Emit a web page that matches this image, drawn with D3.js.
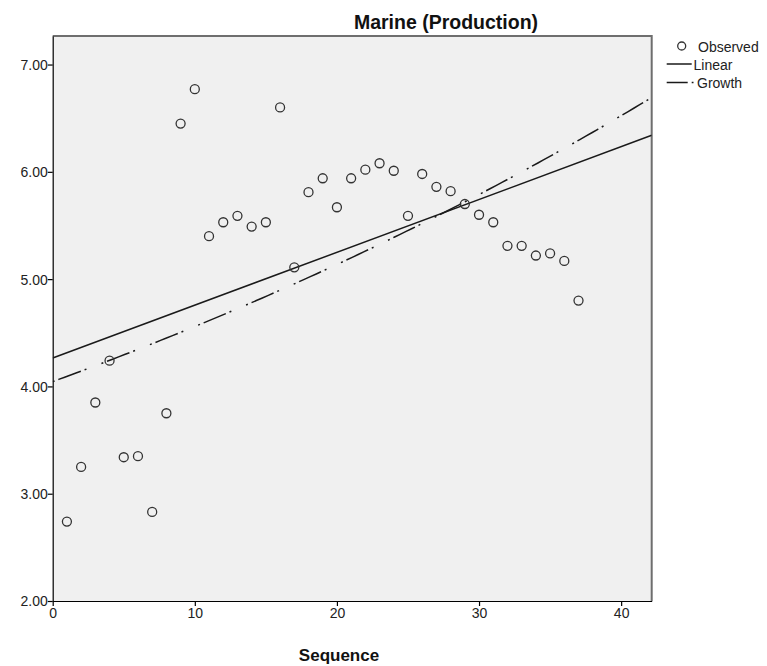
<!DOCTYPE html>
<html><head><meta charset="utf-8">
<script src="https://cdn.jsdelivr.net/npm/d3@7"></script>
<style>body{margin:0;background:#fff} svg{display:block}</style>
</head><body><svg id="c" width="767" height="666"></svg>
<script>
const chartTitle = "Marine (Production)";
const xAxisLabel = "Sequence";
const sequence = [1,2,3,4,5,6,7,8,9,10,11,12,13,14,15,16,17,18,19,20,21,22,23,24,25,26,27,28,29,30,31,32,33,34,35,36,37];
const observed = [2.74,3.25,3.85,4.24,3.34,3.35,2.83,3.75,6.45,6.77,5.40,5.53,5.59,5.49,5.53,6.60,5.11,5.81,5.94,5.67,5.94,6.02,6.08,6.01,5.59,5.98,5.86,5.82,5.70,5.60,5.53,5.31,5.31,5.22,5.24,5.17,4.80];
const xTicks = [0,10,20,30,40];
const yTicks = [2,3,4,5,6,7];
const legendLabels = ["Observed","Linear","Growth"];

const svg = d3.select("#c");
const L = 52.7, R = 651.7, T = 36, B = 601;
const x = d3.scaleLinear().domain([0, 42.15]).range([L, R]);
const y = d3.scaleLinear().domain([2, 7.266]).range([B, T]);

// fits
const mx = d3.mean(sequence);
function ols(xs, ys){
  const my = d3.mean(ys);
  let sxy=0, sxx=0;
  xs.forEach((v,i)=>{sxy+=(v-mx)*(ys[i]-my); sxx+=(v-mx)*(v-mx);});
  const b1 = sxy/sxx; return [my-b1*mx, b1];
}
const lin = ols(sequence, observed);
const gro = ols(sequence, observed.map(Math.log));

svg.append("defs").append("clipPath").attr("id","clip")
  .append("rect").attr("x",L).attr("y",T).attr("width",R-L).attr("height",B-T);

svg.append("rect").attr("x",L).attr("y",T).attr("width",R-L).attr("height",B-T)
  .attr("fill","#f0f0f0");
svg.append("path").attr("d",`M${L},${T}H${R}V${B}`).attr("fill","none")
  .attr("stroke","#6e6e6e").attr("stroke-width",2);

const font = "'Liberation Sans', Arial, sans-serif";

const gx = svg.append("g").attr("transform",`translate(0,${B})`)
  .call(d3.axisBottom(x).tickValues(xTicks).tickFormat(d3.format("d")).tickSize(5).tickPadding(1).tickSizeOuter(0));
const gy = svg.append("g").attr("transform",`translate(${L},0)`)
  .call(d3.axisLeft(y).tickValues(yTicks).tickFormat(d3.format(".2f")).tickSize(5).tickSizeOuter(0));
[gx,gy].forEach(g=>{
  g.select(".domain").attr("stroke","#000").attr("stroke-width",1.2);
  g.selectAll(".tick line").attr("stroke","#000").attr("stroke-width",1.2);
  g.selectAll(".tick text").attr("font-family",font).attr("font-size",14).attr("fill","#222");
});
gx.selectAll(".tick text").attr("dy","0.75em");
gy.selectAll(".tick text").attr("x",-5).attr("dy","0.35em");

const plot = svg.append("g").attr("clip-path","url(#clip)");
const xd = x.domain();
plot.append("line")
  .attr("x1",x(xd[0])).attr("y1",y(lin[0]+lin[1]*xd[0]))
  .attr("x2",x(xd[1])).attr("y2",y(lin[0]+lin[1]*xd[1]))
  .attr("stroke","#1a1a1a").attr("stroke-width",1.5);
const gPts = d3.range(0,101).map(i=>xd[0]+(xd[1]-xd[0])*i/100);
plot.append("path")
  .attr("d", d3.line().x(d=>x(d)).y(d=>y(Math.exp(gro[0]+gro[1]*d)))(gPts))
  .attr("fill","none").attr("stroke","#1a1a1a").attr("stroke-width",1.5)
  .attr("stroke-dasharray","2,4,24,4,2,16");

plot.selectAll("circle.obs").data(sequence).join("circle").attr("class","obs")
  .attr("cx",d=>x(d)).attr("cy",(d,i)=>y(observed[i])).attr("r",4.5)
  .attr("fill","none").attr("stroke","#333").attr("stroke-width",1.3);

svg.append("text").attr("x",446).attr("y",29).attr("text-anchor","middle")
  .attr("font-family",font).attr("font-weight","bold").attr("font-size",19.5).attr("fill","#111")
  .text(chartTitle);
svg.append("text").attr("x",339).attr("y",661).attr("text-anchor","middle")
  .attr("font-family",font).attr("font-weight","bold").attr("font-size",17).attr("fill","#111")
  .text(xAxisLabel);

const lg = svg.append("g").attr("font-family",font).attr("font-size",14).attr("fill","#222");
lg.append("circle").attr("cx",681.7).attr("cy",46).attr("r",4).attr("fill","none").attr("stroke","#333").attr("stroke-width",1.3);
lg.append("text").attr("x",698).attr("y",51.5).text(legendLabels[0]);
lg.append("line").attr("x1",666.7).attr("x2",691.7).attr("y1",64).attr("y2",64).attr("stroke","#1a1a1a").attr("stroke-width",1.5);
lg.append("text").attr("x",693.5).attr("y",69.5).text(legendLabels[1]);
lg.append("line").attr("x1",666.7).attr("x2",693.5).attr("y1",82.5).attr("y2",82.5).attr("stroke","#1a1a1a").attr("stroke-width",1.5).attr("stroke-dasharray","21,4,2,10");
lg.append("text").attr("x",697).attr("y",88).text(legendLabels[2]);
</script></body></html>
